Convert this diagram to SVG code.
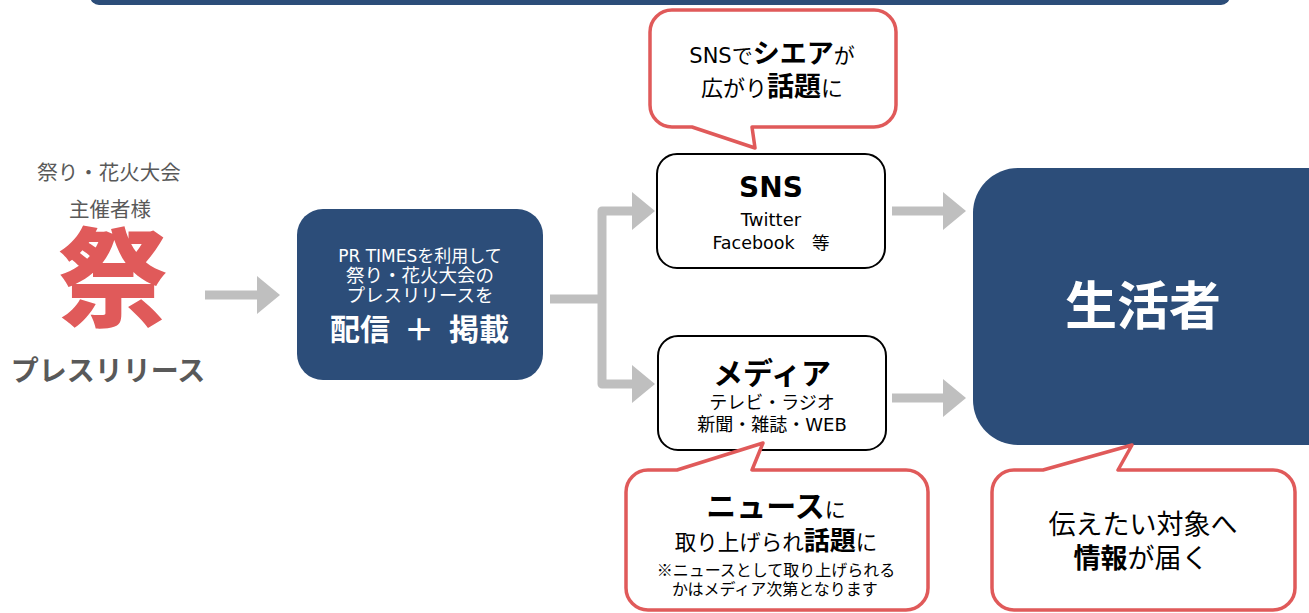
<svg xmlns="http://www.w3.org/2000/svg" width="1309" height="613" viewBox="0 0 1309 613">
<style>
text{font-family:"Noto Sans CJK JP","Noto Sans",sans-serif;text-anchor:middle}
.lat{font-family:"DejaVu Sans","Noto Sans CJK JP",sans-serif}
.dark{fill:#2c4d79}
.box{fill:#fff;stroke:#000;stroke-width:2}
.callout{fill:#fff;stroke:#e05a5a;stroke-width:3.5;stroke-linejoin:round}
.conn{fill:none;stroke:#bfbfbf;stroke-width:9;stroke-linejoin:round}
.gray{fill:#595959}
.b{font-weight:bold}
.w{fill:#fff}
</style>
<defs>
<marker id="ah" markerUnits="userSpaceOnUse" markerWidth="24" markerHeight="40" viewBox="0 0 24 40" refX="0" refY="20" orient="auto">
<path d="M0,1 L23,20 L0,39 Z" fill="#bfbfbf"/>
</marker>
</defs>

<g id="banner"><rect class="dark" x="90" y="-30" width="1140" height="35" rx="9"/></g>

<g id="connectors">
<path class="conn" d="M205,295 H257" marker-end="url(#ah)"/>
<path class="conn" d="M550,299 H602"/>
<path class="conn" d="M602,299 V211 H632" marker-end="url(#ah)"/>
<path class="conn" d="M602,299 V384 H632" marker-end="url(#ah)"/>
<path class="conn" d="M892,211 H943" marker-end="url(#ah)"/>
<path class="conn" d="M892,398 H943" marker-end="url(#ah)"/>
</g>

<g id="organizer">
<text class="gray" x="109" y="180" font-size="20.5">祭り・花火大会</text>
<text class="gray" x="110" y="217" font-size="20.5">主催者様</text>
<text x="113" y="318" font-size="108" font-weight="900" fill="#e05a5a">祭</text>
<text class="gray b" x="108" y="381" font-size="28">プレスリリース</text>
</g>

<g id="prtimes">
<rect class="dark" x="297" y="209" width="246" height="171" rx="26"/>
<text class="w lat" x="420" y="262" font-size="17">PR TIMESを利用して</text>
<text class="w" x="420" y="282" font-size="18.5">祭り・花火大会の</text>
<text class="w" x="420" y="302" font-size="18.5">プレスリリースを</text>
<text class="w b" x="360" y="340" font-size="30">配信</text>
<text class="w b" x="419" y="340" font-size="30">＋</text>
<text class="w b" x="479" y="340" font-size="30">掲載</text>
</g>

<g id="sns-callout">
<path class="callout" d="M672,10 H874 A22,22 0 0 1 896,32 V105 A22,22 0 0 1 874,127 H752 L755,148 L692,127 H672 A22,22 0 0 1 650,105 V32 A22,22 0 0 1 672,10 Z"/>
<text class="lat" x="772" y="63" font-size="21">SNSで<tspan class="b" font-size="27">シエア</tspan>が</text>
<text x="772" y="96" font-size="22">広がり<tspan class="b" font-size="27">話題</tspan>に</text>
</g>

<g id="sns">
<rect class="box" x="657" y="154" width="228" height="114" rx="20"/>
<text class="b lat" x="771" y="197" font-size="28">SNS</text>
<text class="lat" x="771" y="226" font-size="18">Twitter</text>
<text class="lat" x="771" y="249" font-size="17.5">Facebook　等</text>
</g>

<g id="media">
<rect class="box" x="658" y="336" width="228" height="114" rx="20"/>
<text class="b" x="772" y="384" font-size="30">メディア</text>
<text x="772" y="409" font-size="18">テレビ・ラジオ</text>
<text class="lat" x="772" y="431" font-size="18">新聞・雑誌・WEB</text>
</g>

<g id="news-callout">
<path class="callout" d="M648,470 H677 L763,443 L752,470 H906 A22,22 0 0 1 928,492 V588 A22,22 0 0 1 906,610 H648 A22,22 0 0 1 626,588 V492 A22,22 0 0 1 648,470 Z"/>
<text x="776" y="517" font-size="21"><tspan class="b" font-size="30">ニュース</tspan>に</text>
<text x="776" y="550" font-size="21.5">取り上げられ<tspan class="b" font-size="26">話題</tspan>に</text>
<text x="776" y="576" font-size="16">※ニュースとして取り上げられる</text>
<text x="775" y="595" font-size="16">かはメディア次第となります</text>
</g>

<g id="consumer">
<rect class="dark" x="973" y="168" width="380" height="277" rx="45"/>
<text class="w b" x="1143" y="325" font-size="52">生活者</text>
</g>

<g id="reach-callout">
<path class="callout" d="M1014,470 H1043 L1132,445 L1118,470 H1273 A22,22 0 0 1 1295,492 V588 A22,22 0 0 1 1273,610 H1014 A22,22 0 0 1 992,588 V492 A22,22 0 0 1 1014,470 Z"/>
<text x="1143" y="534" font-size="27">伝えたい対象へ</text>
<text x="1141" y="568" font-size="27"><tspan class="b">情報</tspan>が届く</text>
</g>
</svg>
